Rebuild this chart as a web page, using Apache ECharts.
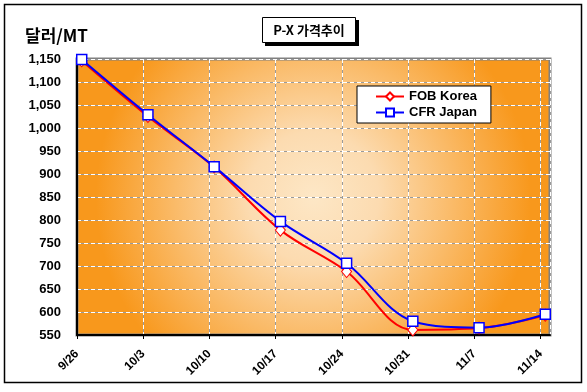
<!DOCTYPE html>
<html><head><meta charset="utf-8">
<script src="https://cdn.jsdelivr.net/npm/echarts@6/dist/echarts.min.js"></script>
<style>html,body{margin:0;padding:0;background:#fff}#c{width:587px;height:392px}</style>
</head><body><div id="c"></div>
<script>
// Tick labels (weekly dates, days since 9/26 = index*7)
var tickLabels = ['9/26','10/3','10/10','10/17','10/24','10/31','11/7','11/14'];
// Observation days (days since 9/26)
var obsDays = [0.5, 7.5, 14.5, 21.5, 28.5, 35.5, 42.5, 49.5];
var fobKorea = [1146, 1025, 915, 778, 688, 561, 565, 593];
var cfrJapan = [1149, 1029, 916, 797, 706, 580, 566, 595];
var seriesNames = ['FOB Korea', 'CFR Japan'];

function pairs(vals){ return vals.map(function(v,i){ return [obsDays[i], v]; }); }

var chart = echarts.init(document.getElementById('c'), null, {renderer:'canvas'});
var font = '"Liberation Sans", Arial, sans-serif';
var bg = {type:'radial', x:0.5, y:0.5, r:0.78, colorStops:[
  {offset:0, color:'#fde7c6'},{offset:0.3, color:'#fcdbb0'},{offset:1, color:'#f8981c'}]};
var xBase = {type:'value', min:0, max:50, interval:7, gridIndex:0};
var yBase = {type:'value', min:550, max:1150, interval:50, gridIndex:0};
chart.setOption({
  animation:false,
  backgroundColor:'#ffffff',
  grid:{left:77, top:59, width:473, height:276, show:true, backgroundColor:bg, borderColor:'#808080', borderWidth:3, z:0},
  legend:{
    data:seriesNames, orient:'vertical', left:357, top:86,
    padding:[4,14,4,18], itemGap:3, itemWidth:28, itemHeight:10,
    backgroundColor:'#ffffff', borderColor:'#000', borderWidth:1,
    textStyle:{fontFamily:font, fontWeight:'bold', fontSize:13, color:'#000'}
  },
  xAxis:[
    Object.assign({}, xBase, {
      axisLine:{show:true, onZero:false, lineStyle:{color:'#000', width:2}},
      axisTick:{show:true, length:4, lineStyle:{color:'#000', width:1}},
      axisLabel:{rotate:45, margin:17, color:'#000', fontFamily:font, fontWeight:'bold', fontSize:12,
        showMaxLabel:false,
        formatter:function(v){ return (v % 7 === 0) ? (tickLabels[v/7] || '') : ''; }},
      splitLine:{show:true, lineStyle:{color:'#9a9a9a', width:1, type:'solid'}}
    }),
    Object.assign({}, xBase, {
      show:true, axisLine:{show:false}, axisTick:{show:false}, axisLabel:{show:false},
      splitLine:{show:true, lineStyle:{color:'#ffffff', width:1, type:[4,3]}}
    })
  ],
  yAxis:[
    Object.assign({}, yBase, {
      axisLine:{show:true, onZero:false, lineStyle:{color:'#000', width:2}},
      axisTick:{show:false},
      axisLabel:{margin:16, color:'#000', fontFamily:font, fontWeight:'bold', fontSize:13,
        formatter:function(v){ return v.toLocaleString('en-US'); }},
      splitLine:{show:true, lineStyle:{color:'#9a9a9a', width:1, type:'solid'}}
    }),
    Object.assign({}, yBase, {
      show:true, axisLine:{show:false}, axisTick:{show:false}, axisLabel:{show:false},
      splitLine:{show:true, lineStyle:{color:'#ffffff', width:1, type:[4,3]}}
    })
  ],
  series:[
    {name:seriesNames[0], type:'line', data:pairs(fobKorea), smooth:0.35, xAxisIndex:0, yAxisIndex:0,
     symbol:'diamond', symbolSize:[10,12], showAllSymbol:true,
     lineStyle:{color:'#ff0000', width:2}, itemStyle:{color:'#ffffff', borderColor:'#ff0000', borderWidth:1}, z:3},
    {name:seriesNames[1], type:'line', data:pairs(cfrJapan), smooth:0.35, xAxisIndex:0, yAxisIndex:0,
     symbol:'rect', symbolSize:10, showAllSymbol:true,
     lineStyle:{color:'#0000ff', width:2}, itemStyle:{color:'#ffffff', borderColor:'#0000ff', borderWidth:1.5}, z:4}
  ],
  graphic:[
    {type:'rect', shape:{x:4.5, y:4.5, width:577, height:378}, style:{fill:null, stroke:'#000', lineWidth:1.5}, silent:true, z:-1},
    {type:'rect', shape:{x:265, y:20, width:94, height:26}, style:{fill:'#000'}, z:10},
    {type:'rect', shape:{x:262.5, y:17.5, width:93, height:25}, style:{fill:'#fff', stroke:'#000', lineWidth:1}, z:11},
    {type:'text', x:309, y:30, z:12, style:{text:'P-X 가격추이', fill:'#000', align:'center', verticalAlign:'middle',
      font:'bold 13px "Noto Sans CJK KR", "Liberation Sans", sans-serif'}},
    {type:'text', x:25, y:36, z:12, style:{text:'달러/MT', fill:'#000', align:'left', verticalAlign:'middle',
      font:'bold 17px "Noto Sans CJK KR", "Liberation Sans", sans-serif'}}
  ]
});
</script></body></html>
